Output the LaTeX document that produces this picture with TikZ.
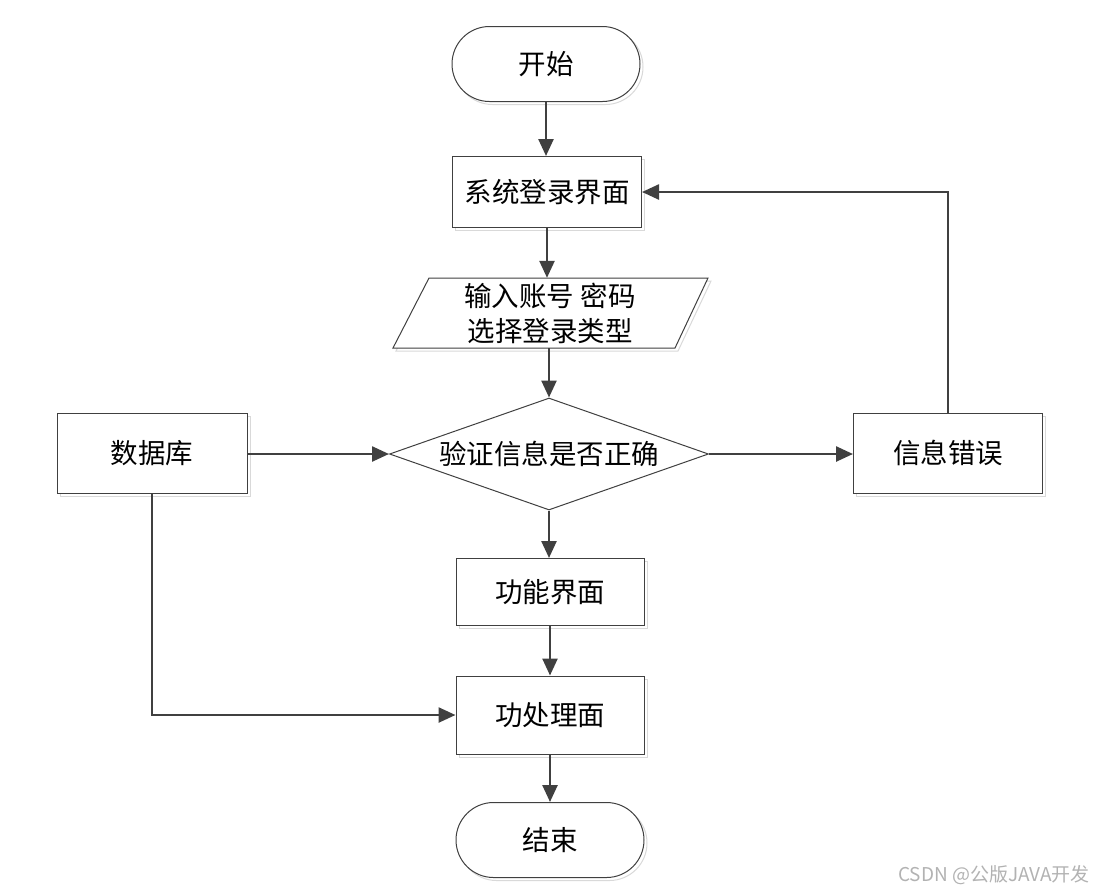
\documentclass[tikz,border=0pt]{standalone}
\usepackage{fontspec}
\newfontfamily\cjk{Noto Sans CJK SC}
\usetikzlibrary{arrows.meta,shapes.misc,shapes.geometric,shadows}
\definecolor{ln}{HTML}{404040}
\tikzset{
  shd/.style={general shadow={shadow xshift=3pt,shadow yshift=-3pt,draw=black!15,fill=white,line width=1pt}},
  base/.style={draw=ln,line width=1pt,fill=white,font=\cjk\fontsize{27.5}{34}\selectfont,inner sep=0pt,align=center},
  term/.style={base,shd,rounded rectangle,minimum width=188pt,minimum height=75pt},
  proc/.style={base,shd,rectangle,minimum width=189pt},
  dec/.style={base,diamond,aspect=2.85,minimum width=319pt,minimum height=112pt},
  conn/.style={draw=ln,line width=2.5pt,-{Triangle[length=17pt,width=15pt]}},
}
\begin{document}
\begin{tikzpicture}[x=1pt,y=-1pt]
\useasboundingbox (0,0) rectangle (1095,892);
\node[term] (start) at (546,64) {开始};
\node[proc,minimum height=71pt] (login) at (547,192) {系统登录界面};
% parallelogram
\draw[draw=black!15,line width=1pt,fill=white] (432,281) -- (711,281) -- (678,351) -- (396,351) -- cycle;
\draw[draw=ln,line width=1pt,fill=white] (429,278) -- (708,278) -- (675,348) -- (393,348) -- cycle;
\node[font=\cjk\fontsize{27.5}{35}\selectfont,align=center,inner sep=0pt,minimum width=240pt,minimum height=70pt] (input) at (550,313) {输入账号 密码\\选择登录类型};
\node[dec] (check) at (549,454) {验证信息是否正确};
\node[proc,minimum width=190pt,minimum height=80pt] (db) at (152,453) {数据库};
\node[proc,minimum height=80pt] (err) at (948,453) {信息错误};
\node[proc,minimum width=188pt,minimum height=67pt] (func) at (550,592) {功能界面};
\node[proc,minimum width=188pt,minimum height=78pt] (proc) at (550,715) {功处理面};
\node[term] (end) at (550,840) {结束};
\coordinate (dbturn) at (db.south |- proc.west);
\coordinate (errturn) at (err.north |- login.east);
\draw[conn] (start.south) -- (start.south |- login.north);
\draw[conn] (login.south) -- (login.south |- input.north);
\draw[conn] (input.south -| check.north) -- (check.north);
\draw[conn] (db.east |- check.west) -- (check.west);
\draw[conn] (check.east) -- (err.west |- check.east);
\draw[conn] (check.south) -- (check.south |- func.north);
\draw[conn] (func.south) -- (proc.north);
\draw[conn] (proc.south) -- (end.north);
\draw[conn] (err.north) -- (errturn) -- (login.east);
\draw[conn] (db.south) -- (dbturn) -- (proc.west);
\node[font=\cjk\fontsize{19}{22}\selectfont,text=black!30,anchor=east,inner sep=0pt] (wm) at (1090,875) {CSDN @公版JAVA开发};
\end{tikzpicture}
\end{document}
